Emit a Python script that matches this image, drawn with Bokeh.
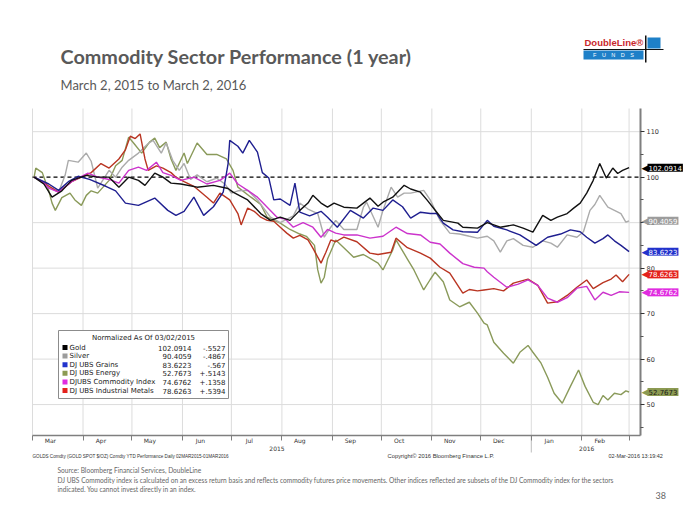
from datetime import datetime, timedelta
from bokeh.plotting import figure
from bokeh.models import (Range1d, FixedTicker, DatetimeAxis, DatetimeTickFormatter,
                          Label, BoxAnnotation)
from bokeh.embed import file_html
from bokeh.resources import INLINE

BASE = datetime(2015, 3, 1)

# ---- data: day offsets from 2015-03-01 and normalized values ----
gold_days = [1, 7, 12, 18, 24, 33, 40, 47, 53, 59, 65, 69, 75, 80, 85, 91, 101, 111, 120, 123,
             132, 140, 146, 152, 158, 164, 169, 172, 177, 181, 185, 191, 199, 207, 212, 215, 221,
             228, 232, 238, 242, 248, 252, 261, 264, 273, 279, 287, 295, 301, 307, 313, 318, 322,
             328, 332, 336, 340, 344, 348, 352, 356, 359, 362, 366]
gold_vals = [100, 98.5, 95.6, 97, 99.3, 100.4, 100, 100, 97.8, 100, 99.3, 98.2, 100.9, 100, 98.7,
             98.5, 97.8, 98.2, 97.5, 96.7, 95, 92, 90.5, 91.2, 90.5, 92.7, 94.3, 96, 94.3, 93.4,
             94.3, 93.4, 93.2, 95.4, 93.6, 94.5, 95.6, 98.2, 97.4, 96.7, 95, 92.3, 90.5, 89.9, 89,
             88.8, 90, 89, 89.5, 88.8, 87.9, 91.6, 90.5, 91.2, 92, 93.2, 94.3, 96.5, 99.3, 103,
             99.8, 102, 100.8, 101.5, 102.0914]

silver_days = [1, 9, 16, 20, 22, 28, 33, 36, 40, 47, 51, 55, 59, 65, 71, 74, 79, 82, 86, 90, 93,
               97, 101, 107, 113, 118, 122, 126, 132, 138, 146, 152, 160, 164, 169, 175, 179, 182,
               186, 191, 199, 203, 205, 212, 215, 220, 224, 228, 232, 240, 244, 250, 256, 262, 268,
               273, 279, 283, 287, 291, 295, 301, 307, 313, 318, 322, 328, 334, 338, 342, 345, 348,
               353, 357, 361, 364, 366]
silver_vals = [100, 98, 96.7, 100.4, 103.7, 103.3, 105.3, 103.5, 97.6, 101.5, 100, 102.2, 103.7,
               105.3, 107.4, 108.1, 105.3, 107.5, 103.7, 101.5, 103, 99.5, 100.5, 99, 99.8, 98.5,
               96.5, 97, 97.1, 95, 91.2, 90, 91.5, 94.3, 93, 92, 86.8, 88.5, 90.5, 88.5, 88.5, 93.4,
               94.5, 89, 92.7, 97.8, 95.6, 96.5, 96.5, 97.1, 95, 90.5, 87.7, 87.5, 87, 86.6, 87,
               86, 83.5, 86, 86.5, 85, 84.6, 86, 85.5, 84.6, 87.3, 86.8, 88, 92.7, 94, 96, 93.4,
               92.7, 92, 90.1, 90.4059]

grains_days = [1, 10, 16, 22, 28, 35, 45, 51, 57, 65, 75, 83, 88, 93, 99, 105, 111, 117, 120, 121,
               126, 129, 133, 138, 141, 145, 148, 152, 158, 161, 164, 170, 177, 181, 187, 195, 203,
               209, 215, 221, 227, 232, 238, 244, 248, 252, 258, 264, 273, 279, 283, 291, 299, 309,
               316, 324, 330, 336, 340, 345, 350, 353, 357, 361, 366]
grains_vals = [100, 98.5, 97.1, 99, 100.2, 99.5, 98, 97, 94.3, 93.8, 95.4, 92.7, 91.6, 92.5, 95.6,
               91.6, 93.5, 96.7, 103, 108.1, 106.8, 105.3, 108.1, 105.5, 101, 99.8, 95, 95.2, 93.8,
               98.7, 92.3, 91.5, 92.5, 91.2, 89, 92.7, 91, 93.2, 92.7, 95, 93.5, 91, 92.3, 92, 92,
               89.9, 88.4, 88, 87.9, 90.5, 89.2, 88.4, 87.3, 85, 86.8, 87.5, 88.4, 88, 86.8, 85.5,
               86.5, 87.3, 86, 85, 83.6223]

energy_days = [1, 2, 6, 10, 12, 14, 18, 23, 26, 30, 33, 36, 40, 47, 51, 55, 59, 62, 67, 72, 75, 78,
               82, 85, 88, 93, 95, 101, 107, 113, 119, 123, 126, 134, 140, 144, 148, 152, 158, 164,
               168, 173, 175, 177, 179, 181, 184, 186, 191, 197, 203, 212, 215, 221, 223, 230, 234,
               240, 244, 247, 252, 256, 262, 268, 273, 277, 279, 283, 289, 295, 299, 304, 307, 312,
               316, 320, 325, 330, 335, 339, 344, 347, 350, 353, 357, 361, 364, 366]
energy_vals = [100, 102, 101, 97, 94.3, 92.7, 95.5, 96.5, 95, 93.8, 96, 97, 96.5, 99.3, 102.5,
               103.7, 108.8, 107.5, 105.3, 107.8, 108.6, 106.5, 107.7, 104, 101.5, 105.3, 103,
               107.5, 105, 105, 104, 101.5, 97.8, 95.6, 94, 91.2, 90.5, 89.9, 88.5, 87.5, 87, 85,
               79.6, 76.7, 78, 82, 84.5, 86.2, 84.5, 82.4, 83, 81.1, 79.6, 84, 86.2, 82, 79.6, 75.2,
               77.5, 79.1, 77, 73, 71.5, 72.5, 70.1, 67.9, 67.5, 63.7, 61.3, 59.1, 61.5, 63, 61.5,
               59.1, 56, 52.5, 50.3, 54, 57.6, 54, 50.5, 50, 52, 51, 52.5, 52.2, 53, 52.7673]

commod_days = [1, 6, 10, 16, 24, 34, 40, 47, 53, 59, 65, 70, 76, 80, 85, 91, 99, 107, 115, 121,
               126, 132, 138, 144, 150, 155, 160, 166, 172, 177, 181, 186, 191, 199, 207, 215, 223,
               230, 238, 244, 250, 256, 264, 271, 277, 279, 283, 291, 298, 304, 310, 316, 322, 328,
               334, 340, 345, 350, 355, 360, 366]
commod_vals = [100, 99, 97.6, 96.7, 99, 100.9, 100, 99.5, 98.7, 101.5, 102.2, 101.5, 103.3, 101,
               100.4, 99.3, 100, 98.5, 99.3, 100.9, 98.5, 97.1, 95.6, 93.4, 91.2, 90.8, 89, 90, 89,
               86.8, 88.5, 87.7, 87.3, 87.3, 86.6, 87, 89, 87.6, 87.3, 85.7, 85.3, 83.3, 81, 80.2,
               80, 79.2, 78, 75.8, 76.5, 77.4, 76.2, 73.4, 72.5, 73.5, 75.6, 76, 73, 74.7, 74,
               74.8, 74.6762]

metals_days = [1, 8, 16, 24, 30, 36, 42, 47, 53, 57, 60, 63, 66, 69, 71, 76, 80, 85, 88, 93, 99,
               107, 111, 115, 121, 126, 128, 132, 136, 140, 144, 148, 152, 156, 160, 164, 169, 172,
               177, 180, 183, 186, 191, 199, 207, 212, 220, 223, 230, 238, 244, 250, 256, 264, 268,
               273, 277, 283, 289, 295, 304, 310, 316, 322, 328, 334, 340, 344, 350, 355, 358, 362,
               366]
metals_vals = [100, 98.5, 96.7, 99, 100, 101, 103, 102, 104, 106, 109, 108.5, 109.5, 104, 101.5,
               102.5, 102, 101, 100, 99, 98, 95.6, 94.3, 96.5, 95, 92, 89.5, 93.2, 92.5, 91.2,
               90.5, 90.3, 89, 87.7, 86.6, 87.2, 86.2, 84.4, 81.1, 83.5, 86.2, 85.8, 86.8, 85.8,
               83.3, 83, 83.5, 86.6, 84.5, 83.3, 82.2, 80.2, 78.9, 74.5, 75.3, 75, 75.2, 75.5, 75,
               76.7, 77.6, 76.2, 72.3, 72.6, 74, 75.8, 77.4, 75.5, 76.8, 77.6, 78.5, 77, 78.6263]

names = ["Gold", "Silver", "DJ UBS Grains", "DJ UBS Energy", "DJUBS Commodity Index",
         "DJ UBS Industrial Metals"]
last_vals = ["102.0914", "90.4059", "83.6223", "52.7673", "74.6762", "78.6263"]
changes = ["-.5527", "-.4867", "-.567", "+.5143", "+.1358", "+.5394"]
y_ticks = [50, 60, 70, 80, 90, 100, 110]
y_minor = [45, 55, 65, 75, 85, 95, 105]
year_label_dates = [datetime(2015, 7, 29), datetime(2016, 2, 4)]
year_break = datetime(2016, 1, 1)

series = {
    "Gold": (gold_days, gold_vals, "#111111", "#000000", "white"),
    "Silver": (silver_days, silver_vals, "#ababab", "#9c9c9c", "white"),
    "DJ UBS Grains": (grains_days, grains_vals, "#1f1f90", "#2233cc", "white"),
    "DJ UBS Energy": (energy_days, energy_vals, "#8a9a5a", "#8c9a52", "#1a1a1a"),
    "DJUBS Commodity Index": (commod_days, commod_vals, "#cc33cc", "#e02ce0", "white"),
    "DJ UBS Industrial Metals": (metals_days, metals_vals, "#b93522", "#e4221c", "white"),
}

# ---- layout: the frame covers the whole page; the chart area sits inside it ----
W, H = 700, 525
CL, CR, CT, CB = 32, 640, 108, 435          # chart area in page pixels
X_DAYS = 373                                 # chart spans 2015-03-01 .. 2016-03-08
Y_LO, Y_HI = 43.2, 115.1
ppd = (CR - CL) / X_DAYS
vpp = (Y_HI - Y_LO) / (CB - CT)

x0 = BASE - timedelta(days=CL / ppd)
x1 = BASE + timedelta(days=(W - CL) / ppd)
yb = Y_LO - (H - CB) * vpp
yt = Y_HI + CT * vpp
CX0, CX1 = BASE, BASE + timedelta(days=X_DAYS)


def ms(dt):
    return (dt - datetime(1970, 1, 1)).total_seconds() * 1000.0


p = figure(width=W, height=H, output_backend="svg", toolbar_location=None,
           x_axis_type="datetime", y_axis_location="right",
           x_range=Range1d(x0, x1), y_range=Range1d(yb, yt),
           min_border_left=0, min_border_right=0, min_border_top=0, min_border_bottom=0)
p.title.visible = False
p.outline_line_color = None
p.background_fill_color = "white"
p.border_fill_color = "white"
p.xgrid.visible = False
p.ygrid.visible = False

month_starts = [datetime(2015 + (2 + i) // 12, (2 + i) % 12 + 1, 1) for i in range(13)]
mid_months = [datetime(d.year, d.month, 12) for d in month_starts[:12]]

fmt_b = DatetimeTickFormatter(microseconds="%b", milliseconds="%b", seconds="%b", minsec="%b",
                              minutes="%b", hourmin="%b", hours="%b", days="%b", months="%b",
                              years="%b")
fmt_y = DatetimeTickFormatter(microseconds="%Y", milliseconds="%Y", seconds="%Y", minsec="%Y",
                              minutes="%Y", hourmin="%Y", hours="%Y", days="%Y", months="%Y",
                              years="%Y")

# grid (inside the chart area only)
GRID = "#dcdcdc"
p.segment(x0=month_starts, y0=Y_LO, x1=month_starts, y1=Y_HI, line_color=GRID, line_width=1)
hticks = [t for t in y_ticks if t != 100]
p.segment(x0=CX0, y0=hticks, x1=CX1, y1=hticks, line_color=GRID, line_width=1)
p.line([CX0, CX1], [100, 100], line_color="black", line_width=1.2, line_dash="4 3")
# year separator below the axis
p.segment(x0=[year_break], y0=Y_LO, x1=[year_break], y1=Y_LO - 17 * vpp,
          line_color="#bdbdbd", line_width=1)

# bottom month axis
xa = p.xaxis[0]
xa.fixed_location = Y_LO
xa.bounds = (ms(CX0), ms(CX1))
xa.ticker = FixedTicker(ticks=[ms(d) for d in mid_months], minor_ticks=[ms(d) for d in month_starts])
xa.formatter = fmt_b
xa.major_tick_out = 0
xa.major_tick_in = 0
xa.minor_tick_out = 5
xa.minor_tick_in = 0
xa.minor_tick_line_color = "#7f7f7f"
xa.axis_line_color = "#7f7f7f"
xa.axis_line_width = 1.5
xa.major_label_text_font = "DejaVu Sans"
xa.major_label_text_font_size = "6px"
xa.major_label_text_color = "#333333"
xa.major_label_standoff = -4

# year axis
ya = DatetimeAxis(ticker=FixedTicker(ticks=[ms(d) for d in year_label_dates]), formatter=fmt_y)
ya.fixed_location = Y_LO
ya.major_tick_out = 0
ya.major_tick_in = 0
ya.minor_tick_out = 0
ya.minor_tick_in = 0
ya.axis_line_color = None
ya.major_label_text_font = "DejaVu Sans"
ya.major_label_text_font_size = "6px"
ya.major_label_text_color = "#333333"
ya.major_label_standoff = 10
p.add_layout(ya, "below")

# right value axis
yax = p.yaxis[0]
yax.fixed_location = ms(CX1)
yax.bounds = (Y_LO, Y_HI)
yax.ticker = FixedTicker(ticks=y_ticks, minor_ticks=y_minor)
yax.axis_line_color = "#7f7f7f"
yax.axis_line_width = 2
yax.major_tick_out = 4
yax.major_tick_in = 0
yax.minor_tick_out = 3
yax.minor_tick_in = 0
yax.major_tick_line_color = "#333333"
yax.minor_tick_line_color = "#555555"
yax.major_label_text_font = "DejaVu Sans"
yax.major_label_text_font_size = "6.5px"
yax.major_label_text_color = "#333333"
yax.major_label_standoff = 2

order = ["DJ UBS Energy", "Silver", "DJ UBS Industrial Metals", "DJUBS Commodity Index",
         "DJ UBS Grains", "Gold"]
for nm in order:
    days, vals, col, _, _ = series[nm]
    xs = [BASE + timedelta(days=d) for d in days]
    p.line(xs, vals, line_color=col, line_width=1.4)


def txt(px, py, text, size, color, font="Lato", style="normal", align="left", baseline="middle"):
    p.add_layout(Label(x=px, y=H - py, x_units="screen", y_units="screen", text=text,
                       text_font=font, text_font_size=f"{size}px", text_color=color,
                       text_font_style=style, text_align=align, text_baseline=baseline))


def box(l, r, t, b, fill, line=None):
    p.add_layout(BoxAnnotation(left=l, right=r, top=H - t, bottom=H - b,
                               left_units="screen", right_units="screen",
                               top_units="screen", bottom_units="screen",
                               fill_color=fill, fill_alpha=1.0, line_color=line,
                               line_alpha=1.0 if line else 0, line_width=1))


# value tags on the right axis
for nm, lv in zip(names, last_vals):
    _, _, _, tag, tcol = series[nm]
    v = float(lv)
    p.add_layout(Label(x=CR + 1, y=v, x_units="screen", y_units="data", text="◀",
                       text_font="DejaVu Sans", text_font_size="9px", text_color=tag,
                       text_baseline="middle"))
    p.add_layout(Label(x=CR + 7, y=v, x_units="screen", y_units="data", text=lv,
                       text_font="DejaVu Sans", text_font_size="7px", text_color=tcol,
                       background_fill_color=tag, text_baseline="middle", padding=1))

# legend box
box(58, 228, 330, 398, "white", "#8c8c8c")
txt(143, 337, "Normalized As Of 03/02/2015", 7, "#222222", font="DejaVu Sans", align="center")
for i, nm in enumerate(names):
    yy = 347 + i * 8.6
    box(62, 67, yy - 2.5, yy + 2.5, series[nm][3])
    txt(69, yy, nm, 7, "#222222", font="DejaVu Sans")
    txt(191, yy, last_vals[i], 7, "#222222", font="DejaVu Sans", align="right")
    txt(225, yy, changes[i], 7, "#222222", font="DejaVu Sans", align="right")

# titles
txt(60, 55, "Commodity Sector Performance (1 year)", 19.8, "#595959", style="bold")
txt(60, 84, "March 2, 2015 to March 2, 2016", 13, "#595959")

# logo
box(583, 643, 50, 59, "#1e80c8")
box(647, 660, 37, 48, "#1e80c8")
box(644.5, 646, 35, 62, "#111111")
box(583, 663, 48.5, 49.5, "#111111")
txt(584, 42, "DoubleLine\u00ae", 9.5, "#c8282d", font="Liberation Sans", style="bold")
txt(613, 54.5, "F\u2002\u2002U\u2002\u2002N\u2002\u2002D\u2002\u2002S", 5.5, "white",
    font="Liberation Sans", align="center")

# bloomberg captions
txt(32, 456, "GOLDS Comdty (GOLD SPOT $/OZ) Comdty YTD Performance  Daily 02MAR2015-01MAR2016",
    4.6, "#333333", font="Liberation Sans")
txt(387, 455, "Copyright© 2016 Bloomberg Finance L.P.", 5.8, "#333333", font="Liberation Sans")
txt(608, 455, "02-Mar-2016 13:19:42", 5.5, "#333333", font="Liberation Sans")

# footnotes
txt(57, 469, "Source: Bloomberg Financial Services, DoubleLine", 6.6, "#666666")
txt(57, 479, "DJ UBS Commodity index is calculated on an excess return basis and reflects commodity "
    "futures price movements. Other indices reflected are subsets of the DJ Commodity index for "
    "the sectors", 6.6, "#666666")
txt(57, 488, "indicated.  You cannot invest directly in an index.", 6.6, "#666666")
txt(655, 495, "38", 9, "#666666")

open("out.html", "w").write(file_html(p, INLINE))
